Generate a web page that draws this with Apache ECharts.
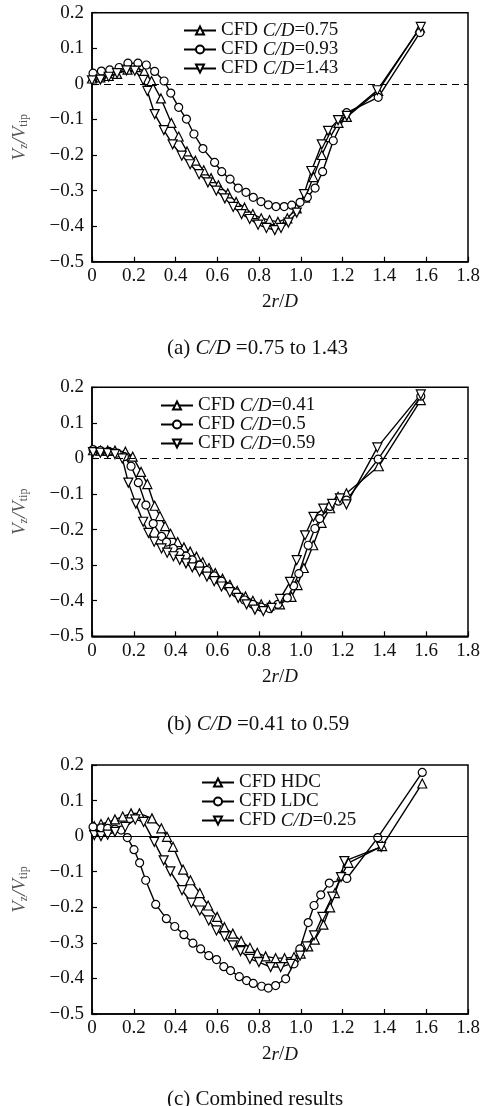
<!DOCTYPE html>
<html>
<head>
<meta charset="utf-8">
<script src="https://cdn.jsdelivr.net/npm/echarts@6/dist/echarts.min.js"></script>
<style>
html,body{margin:0;padding:0;background:#fff}
#main{width:484px;height:1106px}
</style>
</head>
<body>
<div id="main"></div>
<script>
// tick labels
var xTickLabels = ['0', '0.2', '0.4', '0.6', '0.8', '1.0', '1.2', '1.4', '1.6', '1.8'];
var yTickLabels = ['\u22120.5', '\u22120.4', '\u22120.3', '\u22120.2', '\u22120.1', '0', '0.1', '0.2'];

// panel captions
var captions = ['(a) {i|C/D} =0.75 to 1.43', '(b) {i|C/D} =0.41 to 0.59', '(c) Combined results'];

// (a) C/D = 0.75 to 1.43
var a075 = [[0.00,0.015],[0.04,0.018],[0.08,0.022],[0.12,0.028],[0.17,0.040],[0.21,0.047],[0.25,0.035],[0.285,0.008],[0.33,-0.041],[0.38,-0.110],[0.415,-0.148],[0.455,-0.190],[0.495,-0.216],[0.535,-0.243],[0.57,-0.265],[0.605,-0.285],[0.65,-0.308],[0.69,-0.332],[0.73,-0.348],[0.77,-0.366],[0.81,-0.378],[0.85,-0.383],[0.89,-0.388],[0.935,-0.378],[0.98,-0.350],[1.02,-0.320],[1.06,-0.262],[1.10,-0.200],[1.14,-0.150],[1.18,-0.110],[1.22,-0.093],[1.37,-0.020],[1.57,0.158]];
var a093 = [[0.005,0.030],[0.045,0.036],[0.085,0.039],[0.13,0.046],[0.172,0.058],[0.22,0.058],[0.26,0.053],[0.30,0.035],[0.345,0.008],[0.377,-0.026],[0.415,-0.066],[0.452,-0.099],[0.488,-0.141],[0.531,-0.182],[0.587,-0.221],[0.621,-0.247],[0.661,-0.268],[0.70,-0.293],[0.737,-0.305],[0.772,-0.319],[0.809,-0.331],[0.844,-0.340],[0.881,-0.345],[0.92,-0.345],[0.956,-0.341],[0.996,-0.333],[1.031,-0.319],[1.068,-0.293],[1.104,-0.247],[1.155,-0.160],[1.219,-0.081],[1.37,-0.038],[1.57,0.144]];
var a143 = [[0.00,0.010],[0.04,0.012],[0.08,0.020],[0.12,0.030],[0.165,0.038],[0.205,0.037],[0.245,0.011],[0.265,-0.020],[0.30,-0.085],[0.344,-0.130],[0.386,-0.170],[0.43,-0.202],[0.47,-0.226],[0.513,-0.254],[0.555,-0.277],[0.595,-0.300],[0.636,-0.322],[0.676,-0.346],[0.716,-0.366],[0.755,-0.380],[0.795,-0.396],[0.835,-0.405],[0.875,-0.411],[0.905,-0.405],[0.94,-0.390],[0.98,-0.362],[1.015,-0.310],[1.05,-0.245],[1.10,-0.170],[1.13,-0.132],[1.178,-0.102],[1.22,-0.090],[1.366,-0.018],[1.574,0.160]];

// (b) C/D = 0.41 to 0.59
var b041 = [[0.005,0.023],[0.04,0.022],[0.075,0.022],[0.11,0.022],[0.16,0.019],[0.195,0.005],[0.235,-0.038],[0.265,-0.072],[0.30,-0.133],[0.325,-0.162],[0.35,-0.190],[0.376,-0.212],[0.41,-0.235],[0.44,-0.250],[0.47,-0.262],[0.50,-0.276],[0.53,-0.292],[0.56,-0.308],[0.59,-0.322],[0.625,-0.338],[0.66,-0.355],[0.695,-0.372],[0.735,-0.388],[0.77,-0.400],[0.81,-0.410],[0.85,-0.413],[0.90,-0.410],[0.955,-0.389],[0.984,-0.356],[1.014,-0.308],[1.059,-0.244],[1.099,-0.181],[1.14,-0.140],[1.178,-0.108],[1.218,-0.098],[1.373,-0.022],[1.574,0.164]];
var b050 = [[0.005,0.025],[0.04,0.022],[0.08,0.020],[0.12,0.015],[0.155,0.005],[0.187,-0.022],[0.222,-0.068],[0.258,-0.131],[0.293,-0.183],[0.333,-0.219],[0.357,-0.235],[0.389,-0.253],[0.42,-0.265],[0.45,-0.275],[0.48,-0.285],[0.515,-0.300],[0.55,-0.315],[0.585,-0.330],[0.62,-0.345],[0.655,-0.362],[0.69,-0.378],[0.73,-0.398],[0.77,-0.410],[0.81,-0.418],[0.85,-0.422],[0.89,-0.410],[0.935,-0.392],[0.965,-0.358],[0.99,-0.324],[1.035,-0.244],[1.067,-0.197],[1.09,-0.169],[1.14,-0.135],[1.18,-0.120],[1.218,-0.117],[1.37,-0.002],[1.574,0.175]];
var b059 = [[0.005,0.018],[0.04,0.016],[0.075,0.015],[0.11,0.012],[0.145,0.000],[0.174,-0.068],[0.21,-0.127],[0.245,-0.178],[0.27,-0.209],[0.298,-0.234],[0.333,-0.253],[0.36,-0.265],[0.39,-0.275],[0.42,-0.285],[0.45,-0.295],[0.48,-0.306],[0.515,-0.318],[0.55,-0.332],[0.585,-0.345],[0.62,-0.360],[0.66,-0.376],[0.70,-0.392],[0.74,-0.410],[0.78,-0.425],[0.82,-0.429],[0.86,-0.420],[0.90,-0.395],[0.948,-0.347],[0.98,-0.286],[1.02,-0.216],[1.06,-0.164],[1.107,-0.141],[1.15,-0.128],[1.187,-0.112],[1.218,-0.129],[1.366,0.031],[1.574,0.180]];

// (c) combined
var cHDC = [[0.011,0.028],[0.043,0.034],[0.078,0.039],[0.11,0.047],[0.147,0.055],[0.187,0.064],[0.227,0.064],[0.287,0.050],[0.332,0.022],[0.359,-0.002],[0.388,-0.030],[0.436,-0.094],[0.471,-0.124],[0.516,-0.160],[0.556,-0.195],[0.599,-0.227],[0.634,-0.256],[0.674,-0.274],[0.714,-0.295],[0.756,-0.314],[0.791,-0.328],[0.831,-0.338],[0.879,-0.343],[0.922,-0.343],[0.967,-0.340],[0.999,-0.330],[1.035,-0.310],[1.067,-0.291],[1.108,-0.249],[1.140,-0.200],[1.163,-0.160],[1.195,-0.110],[1.228,-0.075],[1.389,-0.028],[1.581,0.148]];
var cLDC = [[0.005,0.026],[0.043,0.023],[0.075,0.022],[0.11,0.020],[0.14,0.017],[0.169,-0.004],[0.201,-0.038],[0.228,-0.075],[0.257,-0.124],[0.305,-0.192],[0.356,-0.232],[0.396,-0.254],[0.44,-0.277],[0.483,-0.301],[0.52,-0.317],[0.559,-0.336],[0.596,-0.347],[0.631,-0.367],[0.663,-0.378],[0.705,-0.395],[0.74,-0.406],[0.772,-0.414],[0.812,-0.422],[0.844,-0.427],[0.879,-0.420],[0.927,-0.401],[0.967,-0.359],[0.995,-0.317],[1.035,-0.243],[1.063,-0.195],[1.095,-0.165],[1.136,-0.132],[1.22,-0.119],[1.368,-0.004],[1.581,0.179]];
var c025 = [[0.011,0.003],[0.043,0.000],[0.075,0.004],[0.11,0.012],[0.159,0.026],[0.207,0.047],[0.247,0.040],[0.298,-0.016],[0.343,-0.068],[0.375,-0.099],[0.431,-0.152],[0.476,-0.187],[0.516,-0.209],[0.559,-0.237],[0.596,-0.265],[0.634,-0.282],[0.674,-0.307],[0.711,-0.323],[0.756,-0.345],[0.799,-0.354],[0.855,-0.368],[0.903,-0.368],[0.951,-0.359],[0.996,-0.336],[1.028,-0.310],[1.063,-0.279],[1.103,-0.227],[1.15,-0.170],[1.192,-0.115],[1.208,-0.070],[1.384,-0.030]];

var FONT = 'Liberation Serif';
var tops = [12.7, 387.3, 765];
var legendPos = [[183, 21], [160, 396], [201, 773]];
var captionTops = [333, 709, 1084];

var chart = echarts.init(document.getElementById('main'));

function mk(name, data, idx, shape) {
    return {
        name: name,
        type: 'line',
        xAxisIndex: idx,
        yAxisIndex: idx,
        data: data,
        symbol: shape === 'o' ? 'circle' : 'triangle',
        symbolRotate: shape === 'v' ? 180 : 0,
        symbolSize: shape === 'o' ? 8 : 9,
        lineStyle: {color: '#000', width: 1.4},
        itemStyle: {color: '#fff', borderColor: '#000', borderWidth: 1.2},
        animation: false
    };
}

var series = [
    mk('CFD C/D=0.75', a075, 0, '^'),
    mk('CFD C/D=0.93', a093, 0, 'o'),
    mk('CFD C/D=1.43', a143, 0, 'v'),
    mk('CFD C/D=0.41', b041, 1, '^'),
    mk('CFD C/D=0.5', b050, 1, 'o'),
    mk('CFD C/D=0.59', b059, 1, 'v'),
    mk('CFD HDC', cHDC, 2, '^'),
    mk('CFD LDC', cLDC, 2, 'o'),
    mk('CFD C/D=0.25', c025, 2, 'v')
];
// zero reference lines
[0, 3, 6].forEach(function (k, i) {
    series[k].markLine = {
        silent: true,
        symbol: 'none',
        label: {show: false},
        lineStyle: {color: '#000', width: 1.2, type: i < 2 ? [7, 5] : 'solid'},
        data: [{yAxis: 0}]
    };
});

var richI = {fontStyle: 'italic', fontFamily: FONT, fontSize: 19, color: '#111'};
var richCap = {fontStyle: 'italic', fontFamily: FONT, fontSize: 21, color: '#111'};

var grids = [], xAxes = [], yAxes = [], legends = [], titles = [];
for (var i = 0; i < 3; i++) {
    grids.push({left: 92, right: 16, top: tops[i], height: 249, show: true, borderColor: '#000', borderWidth: 1.5});
    xAxes.push({
        gridIndex: i, type: 'value', min: 0, max: 1.8, interval: 0.2,
        axisLine: {onZero: false, lineStyle: {color: '#000', width: 1.5}},
        axisTick: {inside: true, length: 5, lineStyle: {color: '#000', width: 1.2}},
        splitLine: {show: false},
        axisLabel: {
            color: '#111', fontSize: 19, fontFamily: FONT, margin: 5,
            formatter: function (v) { return xTickLabels[Math.round(v / 0.2)]; }
        },
        name: '{n|2}{i|r}{n|/}{i|D}', nameLocation: 'middle', nameGap: 31,
        nameTextStyle: {rich: {n: {fontFamily: FONT, fontSize: 19, color: '#111'}, i: richI}}
    });
    yAxes.push({
        gridIndex: i, type: 'value', min: -0.5, max: 0.2, interval: 0.1,
        axisLine: {onZero: false, lineStyle: {color: '#000', width: 1.5}},
        axisTick: {inside: true, length: 5, lineStyle: {color: '#000', width: 1.2}},
        splitLine: {show: false},
        axisLabel: {
            color: '#111', fontSize: 19, fontFamily: FONT, margin: 8,
            formatter: function (v) { return yTickLabels[Math.round((v + 0.5) / 0.1)]; }
        },
        name: '{i|V}{s|z}{i|/V}{s|tip}', nameLocation: 'middle', nameGap: 62, nameRotate: 90,
        nameTextStyle: {rich: {
            i: {fontStyle: 'italic', fontFamily: FONT, fontSize: 19, color: '#555'},
            s: {fontFamily: FONT, fontSize: 12, color: '#555', padding: [9, 0, 0, 0]}
        }}
    });
    legends.push({
        orient: 'vertical',
        left: legendPos[i][0], top: legendPos[i][1],
        data: series.filter(function (s) { return s.xAxisIndex === i; }).map(function (s) { return s.name; }),
        itemWidth: 32, itemHeight: 10, itemGap: 0, padding: 0,
        textStyle: {fontFamily: FONT, fontSize: 19, color: '#111', lineHeight: 18, rich: {i: richI}},
        formatter: function (name) { return name.replace('C/D', '{i|C/D}'); },
        selectedMode: false
    });
    titles.push({
        text: captions[i], left: 162, top: captionTops[i],
        textStyle: {fontFamily: FONT, fontSize: 21, fontWeight: 'normal', color: '#111', rich: {i: richCap}}
    });
}

chart.setOption({
    backgroundColor: '#fff',
    animation: false,
    title: titles,
    legend: legends,
    grid: grids,
    xAxis: xAxes,
    yAxis: yAxes,
    series: series
});
</script>
</body>
</html>
